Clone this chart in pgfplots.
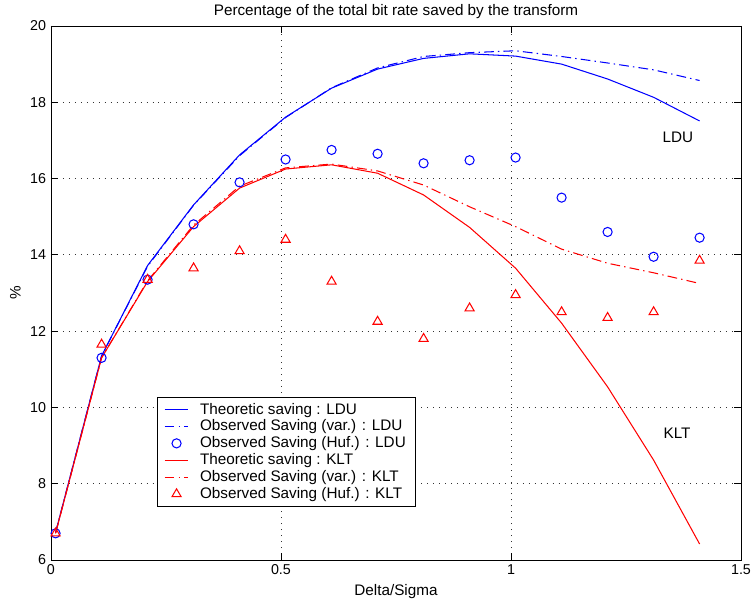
\documentclass[border=0pt]{standalone}
\usepackage{fontspec}
\setmainfont{Liberation Sans}
\usepackage{pgfplots}
\pgfplotsset{compat=1.18}
\usetikzlibrary{calc}

\begin{document}
\begin{tikzpicture}[font=\fontsize{11}{13}\selectfont]
\begin{axis}[
    scale only axis,
    width=496.8pt, height=384.5pt,
    xmin=0, xmax=1.5,
    ymin=6, ymax=20,
    xtick={0,0.5,1,1.5},
    ytick={6,8,10,12,14,16,18,20},
    tick align=inside,
    tick pos=both,
    major tick length=5pt,
    axis line style={line width=0.6pt},
    tick style={line width=0.6pt, black},
    grid=major,
    grid style={black!80, line width=0.6pt, dash pattern=on 0.6pt off 3.7pt},
    ticklabel style={font=\fontsize{10.3}{12}\selectfont},
    /pgf/number format/assume math mode=true,
    title={Percentage of the total bit rate saved by the transform},
    title style={yshift=-4pt},
    xlabel={Delta/Sigma},
    ylabel={\%},
    every axis plot/.append style={line width=0.75pt},
    legend style={
        at={(rel axis cs:0.1536,0.305)}, anchor=north west,
        font=\fontsize{11}{13}\selectfont,
        cells={anchor=west},
        row sep=-1.3pt,
        inner xsep=5pt, inner ysep=2pt,
        /tikz/every odd column/.append style={column sep=6pt},
    },
]
\coordinate (sw) at (rel axis cs:0,0);
\coordinate (ne) at (rel axis cs:1,1);

% theoretic saving : LDU
\addplot[blue, no markers] coordinates {
(0.01,6.72) (0.11,11.35) (0.21,13.72) (0.31,15.31) (0.41,16.62)
(0.51,17.61) (0.61,18.37) (0.71,18.87) (0.81,19.15) (0.91,19.27)
(1.01,19.21) (1.11,19.00) (1.21,18.61) (1.31,18.13) (1.41,17.51)
};
% observed (var.) : LDU
\addplot[blue, no markers, dash pattern=on 7pt off 3pt on 1pt off 3pt] coordinates {
(0.01,6.72) (0.11,11.35) (0.21,13.70) (0.31,15.30) (0.41,16.60)
(0.51,17.60) (0.61,18.38) (0.71,18.90) (0.81,19.20) (0.91,19.30)
(1.01,19.35) (1.11,19.20) (1.21,19.03) (1.31,18.85) (1.41,18.57)
};
% observed (Huf.) : LDU
\addplot[blue, only marks, mark=o, mark size=3.3pt] coordinates {
(0.01,6.70) (0.11,11.30) (0.21,13.35) (0.31,14.80) (0.41,15.90)
(0.51,16.50) (0.61,16.75) (0.71,16.65) (0.81,16.40) (0.91,16.48)
(1.01,16.55) (1.11,15.50) (1.21,14.60) (1.31,13.95) (1.41,14.45)
};
% theoretic saving : KLT
\addplot[red, no markers] coordinates {
(0.01,6.70) (0.11,11.30) (0.21,13.30) (0.31,14.74) (0.41,15.75)
(0.51,16.25) (0.61,16.36) (0.71,16.14) (0.81,15.57) (0.91,14.72)
(1.01,13.65) (1.11,12.21) (1.21,10.54) (1.31,8.62) (1.41,6.42)
};
% observed (var.) : KLT
\addplot[red, no markers, dash pattern=on 7pt off 3pt on 1pt off 3pt] coordinates {
(0.01,6.70) (0.11,11.30) (0.21,13.32) (0.31,14.78) (0.41,15.80)
(0.51,16.28) (0.61,16.38) (0.71,16.20) (0.81,15.83) (0.91,15.26)
(1.01,14.74) (1.11,14.15) (1.21,13.78) (1.31,13.53) (1.41,13.25)
};
% observed (Huf.) : KLT
\addplot[red, only marks, mark=triangle, mark size=3.8pt] coordinates {
(0.01,6.70) (0.11,11.65) (0.21,13.35) (0.31,13.65) (0.41,14.10)
(0.51,14.40) (0.61,13.30) (0.71,12.25) (0.81,11.80) (0.91,12.60)
(1.01,12.95) (1.11,12.50) (1.21,12.35) (1.31,12.50) (1.41,13.85)
};

\node at (axis cs:1.363,17.09) {LDU};
\node at (axis cs:1.361,9.33) {KLT};

\legend{Theoretic saving : LDU, Observed Saving (var.) : LDU, Observed Saving (Huf.) : LDU,
        Theoretic saving : KLT, Observed Saving (var.) : KLT, Observed Saving (Huf.) : KLT}
\end{axis}
\pgfresetboundingbox
\path[use as bounding box] ($(sw)+(-36.7pt,-33.1pt)$) rectangle ($(ne)+(7.2pt,18.7pt)$);
\end{tikzpicture}
\end{document}
